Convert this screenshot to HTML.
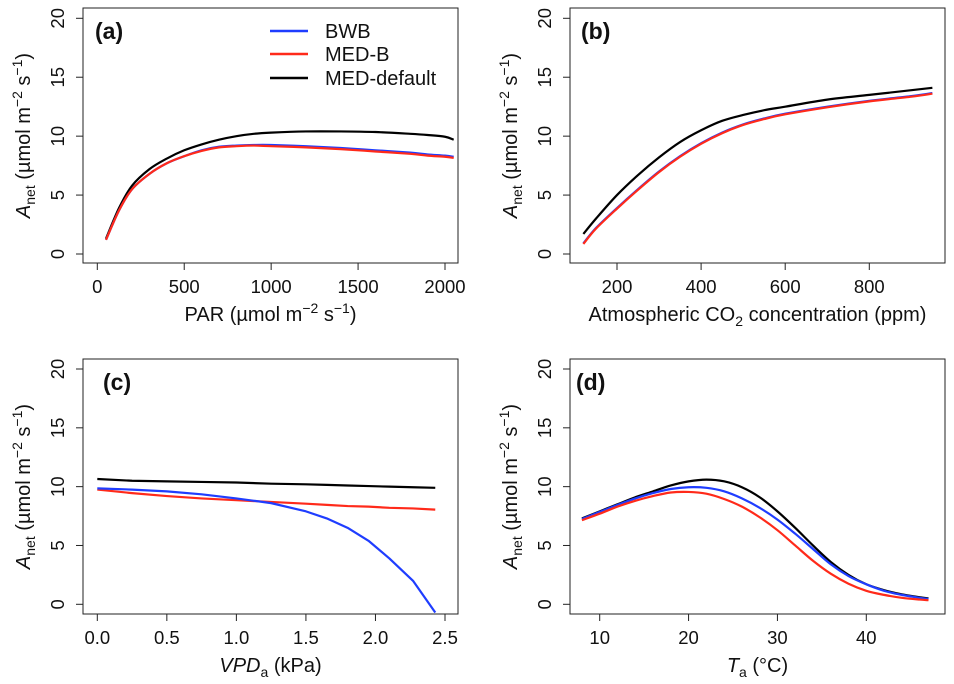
<!DOCTYPE html>
<html><head><meta charset="utf-8"><style>
html,body{margin:0;padding:0;background:#fff}
svg{display:block;font-family:"Liberation Sans",Arial,sans-serif}
</style></head><body>
<svg id="fig" width="954" height="684" viewBox="0 0 954 684" xmlns="http://www.w3.org/2000/svg"></svg>
<script>
const aX=[50,125,200,300,400,500,600,700,800,900,1000,1200,1400,1600,1800,1900,2000,2050];
const aMED=[1.3,3.9,5.8,7.2,8.1,8.8,9.3,9.7,10.0,10.2,10.3,10.4,10.4,10.35,10.2,10.1,9.95,9.7];
const aBWB=[1.2,3.7,5.5,6.8,7.7,8.3,8.8,9.1,9.2,9.25,9.25,9.15,9.0,8.8,8.6,8.45,8.35,8.25];
const aMEDB=[1.2,3.7,5.5,6.8,7.7,8.3,8.75,9.05,9.15,9.2,9.15,9.05,8.9,8.7,8.5,8.35,8.25,8.15];
const bX=[120,150,200,250,300,350,400,450,500,550,600,700,800,900,950];
const bMED=[1.7,3.0,5.0,6.7,8.2,9.5,10.5,11.3,11.8,12.2,12.5,13.1,13.5,13.9,14.1];
const bBWB=[0.9,2.2,3.9,5.5,7.0,8.3,9.4,10.3,11.0,11.5,11.9,12.5,13.0,13.4,13.65];
const bMEDB=[0.85,2.15,3.85,5.45,6.95,8.25,9.35,10.25,10.95,11.45,11.85,12.45,12.95,13.35,13.6];
const cX=[0,0.25,0.5,0.75,1.0,1.25,1.5,1.65,1.8,1.95,2.1,2.27,2.43];
const cMED=[10.65,10.5,10.45,10.4,10.35,10.25,10.2,10.15,10.1,10.05,10.0,9.95,9.9];
const cBWB=[9.85,9.75,9.6,9.35,9.0,8.6,7.9,7.3,6.5,5.4,3.9,2.0,-0.7];
const cMEDB=[9.75,9.45,9.2,9.0,8.85,8.7,8.55,8.45,8.35,8.3,8.2,8.15,8.05];
const dX=[8,10,12,14,16,18,20,22,24,26,28,30,32,34,36,38,40,42,44,46,47];
const dMED=[7.3,7.9,8.5,9.1,9.6,10.1,10.45,10.6,10.45,9.95,9.1,7.9,6.5,5.0,3.6,2.5,1.7,1.2,0.85,0.6,0.5];
const dBWB=[7.25,7.85,8.45,9.0,9.45,9.8,9.95,9.9,9.6,9.0,8.2,7.2,6.0,4.7,3.4,2.4,1.7,1.15,0.8,0.55,0.45];
const dMEDB=[7.15,7.7,8.3,8.8,9.2,9.5,9.55,9.4,8.95,8.3,7.4,6.3,5.0,3.7,2.6,1.75,1.15,0.8,0.55,0.4,0.35];
const yTicks=[0,5,10,15,20];
const aTicks=[0,500,1000,1500,2000];
const bTicks=[200,400,600,800];
const cTicks=[0,0.5,1,1.5,2,2.5];
const cTickLabels=["0.0","0.5","1.0","1.5","2.0","2.5"];
const dTicks=[10,20,30,40];

const NS="http://www.w3.org/2000/svg";
const svg=document.getElementById('fig');
function mk(tag,attrs,parent,txt){const e=document.createElementNS(NS,tag);for(const k in attrs)e.setAttribute(k,attrs[k]);if(txt!==undefined)e.textContent=txt;(parent||svg).appendChild(e);return e;}

function pathD(P,smooth){
  if(!smooth) return P.map((p,j)=>(j?'L':'M')+p[0].toFixed(2)+','+p[1].toFixed(2)).join('');
  let d='M'+P[0][0].toFixed(2)+','+P[0][1].toFixed(2);
  for(let i=0;i<P.length-1;i++){
    const p0=P[i-1]||P[i],p1=P[i],p2=P[i+1],p3=P[i+2]||P[i+1];
    const c1=[p1[0]+(p2[0]-p0[0])/6,p1[1]+(p2[1]-p0[1])/6];
    const c2=[p2[0]-(p3[0]-p1[0])/6,p2[1]-(p3[1]-p1[1])/6];
    d+='C'+c1.map(v=>v.toFixed(2)).join(',')+' '+c2.map(v=>v.toFixed(2)).join(',')+' '+p2[0].toFixed(2)+','+p2[1].toFixed(2);
  }
  return d;
}

function panel(cfg){
  const g=mk('g',{});
  
  
  const xs=v=>cfg.x0px+(v-cfg.x0v)*(cfg.x1px-cfg.x0px)/(cfg.x1v-cfg.x0v);
  const ys=v=>cfg.y0px+(v)*(cfg.y20px-cfg.y0px)/20;
  const B=cfg.box;
  const clipId='clip'+cfg.id;
  const cp=mk('clipPath',{id:clipId},g);
  mk('rect',{x:B[0],y:B[1],width:B[2]-B[0],height:B[3]-B[1]},cp);
  const series=[[cfg.med,'#000','med-default'],[cfg.bwb,'#1f3dff','bwb'],[cfg.medb,'#ff2a1a','med-b']];
  const order=cfg.order||[0,1,2];
  order.forEach(i=>{const s=series[i];
    const P=cfg.xd.map((x,j)=>[xs(x),ys(s[0][j])]);
    const p=mk('path',{d:pathD(P,cfg.smooth),fill:'none',stroke:s[1],'stroke-width':2.2,'stroke-linejoin':'round','clip-path':'url(#'+clipId+')'},g);
    
    
  });
  const box=mk('rect',{x:B[0],y:B[1],width:B[2]-B[0],height:B[3]-B[1],fill:'none',stroke:'#222','stroke-width':1},g);
  
  
  yTicks.forEach(t=>{const y=ys(t);
    mk('line',{x1:B[0]-7,x2:B[0],y1:y,y2:y,stroke:'#222'},g);
    const lx=B[0]-19;
    const tx=mk('text',{x:lx,y:y,'font-size':18.5,'text-anchor':'middle',transform:'rotate(-90 '+lx+' '+y+')',fill:'#111'},g,String(t));
    
    
  });
  cfg.xt.forEach((t,i)=>{const x=xs(t);
    mk('line',{x1:x,x2:x,y1:B[3],y2:B[3]+7,stroke:'#222'},g);
    const tx=mk('text',{x:x,y:B[3]+30,'font-size':18.5,'text-anchor':'middle',fill:'#111'},g,cfg.xl?cfg.xl[i]:String(t));
    
    
  });
  const cx=B[0]-53, cy=(B[1]+B[3])/2;
  const yt=mk('text',{x:cx,y:cy,'font-size':20,'text-anchor':'middle',transform:'rotate(-90 '+cx+' '+cy+')',fill:'#111'},g);
  
  
  mk('tspan',{'font-style':'italic'},yt,'A');
  mk('tspan',{'font-size':14,dy:5},yt,'net');
  mk('tspan',{dy:-5},yt,' (\u00b5mol m');
  mk('tspan',{'font-size':14,dy:-8},yt,'\u22122');
  mk('tspan',{dy:8},yt,' s');
  mk('tspan',{'font-size':14,dy:-8},yt,'\u22121');
  mk('tspan',{dy:8},yt,')');
  const xt=mk('text',{x:(B[0]+B[2])/2,y:B[3]+58,'font-size':20,'text-anchor':'middle',fill:'#111'},g);
  
  
  cfg.xtitle(xt);
  const lab=mk('text',{x:cfg.lab[0],y:cfg.lab[1],'font-size':23,'font-weight':'bold',fill:'#111'},g,'('+cfg.id+')');
  
  
}
panel({id:'a',smooth:true,box:[83,8,458,263],x0v:0,x1v:2000,x0px:97.3,x1px:445,y0px:254,y20px:18.3,xd:aX,med:aMED,bwb:aBWB,medb:aMEDB,xt:aTicks,lab:[95,39],
  xtitle:t=>{mk('tspan',{},t,'PAR (\u00b5mol m');mk('tspan',{'font-size':14,dy:-8},t,'\u22122');mk('tspan',{dy:8},t,' s');mk('tspan',{'font-size':14,dy:-8},t,'\u22121');mk('tspan',{dy:8},t,')');}});
panel({id:'b',smooth:true,box:[570,8,945,263],x0v:200,x1v:800,x0px:617,x1px:869.3,y0px:254,y20px:18.3,xd:bX,med:bMED,bwb:bBWB,medb:bMEDB,xt:bTicks,lab:[581,39],
  xtitle:t=>{mk('tspan',{},t,'Atmospheric CO');mk('tspan',{'font-size':14,dy:5},t,'2');mk('tspan',{dy:-5},t,' concentration (ppm)');}});
panel({id:'c',smooth:false,box:[83,359,458,614],x0v:0,x1v:2.5,x0px:97.3,x1px:445,y0px:604.3,y20px:369,xd:cX,med:cMED,bwb:cBWB,medb:cMEDB,xt:cTicks,xl:cTickLabels,lab:[103,390],order:[0,2,1],
  xtitle:t=>{mk('tspan',{'font-style':'italic'},t,'VPD');mk('tspan',{'font-size':14,dy:5},t,'a');mk('tspan',{dy:-5},t,' (kPa)');}});
panel({id:'d',smooth:true,box:[570,359,945,614],x0v:10,x1v:40,x0px:599.7,x1px:866.3,y0px:604.3,y20px:369,xd:dX,med:dMED,bwb:dBWB,medb:dMEDB,xt:dTicks,lab:[576,390],
  xtitle:t=>{mk('tspan',{'font-style':'italic'},t,'T');mk('tspan',{'font-size':14,dy:5},t,'a');mk('tspan',{dy:-5},t,' (\u00b0C)');}});
const lg=mk('g',{});


[['BWB','#1f3dff',31],['MED-B','#ff2a1a',54],['MED-default','#000',78]].forEach(e=>{
  const it=mk('g',{},lg);
  
  
  mk('line',{x1:270,x2:308,y1:e[2],y2:e[2],stroke:e[1],'stroke-width':2.5},it);
  mk('text',{x:325,y:e[2]+7,'font-size':20,fill:'#111'},it,e[0]);
});
</script>
</body></html>
